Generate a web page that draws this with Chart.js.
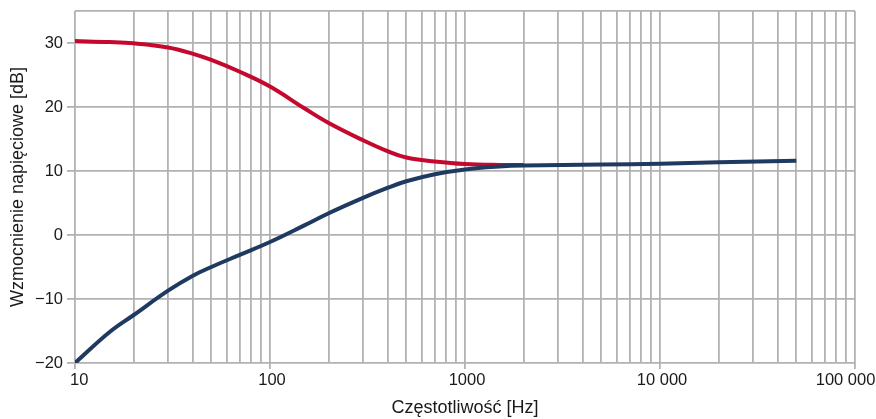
<!DOCTYPE html>
<html>
<head>
<meta charset="utf-8">
<script src="https://cdn.jsdelivr.net/npm/chart.js@4/dist/chart.umd.min.js"></script>
<style>
html,body{margin:0;padding:0;background:#fff;}
#wrap{width:876px;height:419px;}
</style>
</head>
<body>
<div id="wrap"><canvas id="c" width="876" height="419"></canvas></div>
<script>
const redFreq = [10, 15, 20, 30, 40, 50, 70, 100, 150, 200, 300, 400, 500, 700, 1000, 1500, 2000];
const redGain = [30.3, 30.15, 29.95, 29.3, 28.35, 27.35, 25.5, 23.2, 19.8, 17.5, 14.8, 13.1, 12.1, 11.5, 11.1, 10.95, 10.95];
const blueFreq = [10, 15, 20, 30, 40, 50, 70, 100, 150, 200, 300, 400, 500, 700, 1000, 1500, 2000, 5000, 10000, 20000, 50000];
const blueGain = [-20, -15.2, -12.5, -8.7, -6.4, -5.0, -3.1, -1.1, 1.5, 3.4, 5.8, 7.35, 8.4, 9.5, 10.25, 10.7, 10.85, 11.0, 11.15, 11.35, 11.6];
const yTicks = [-20, -10, 0, 10, 20, 30, 35];
const yTickLabels = ['\u221220', '\u221210', '0', '10', '20', '30', ''];
const xMajorLabels = {10: '\u00a010', 100: '100', 1000: '1000', 10000: '10 000', 100000: '100 000\u00a0\u00a0\u00a0\u00a0\u00a0'};
const xTitle = 'Częstotliwość [Hz]';
const yTitle = 'Wzmocnienie napięciowe [dB]';

const toPts = (xs, ys) => xs.map((x, i) => ({x: x, y: ys[i]}));
const gridColor = '#b2b2b2';
const fam = 'Liberation Sans, Arial, sans-serif';
const tickFont = {family: fam, size: 16.5};
const titleFont = {family: fam, size: 18};

new Chart(document.getElementById('c'), {
  type: 'scatter',
  data: {
    datasets: [
      {data: toPts(blueFreq, blueGain), showLine: true, borderColor: '#1f3a60', borderWidth: 4, pointRadius: 0, tension: 0.4, order: 1},
      {data: toPts(redFreq, redGain), showLine: true, borderColor: '#c4082e', borderWidth: 4, pointRadius: 0, tension: 0.4, order: 2}
    ]
  },
  options: {
    responsive: false,
    animation: false,
    events: [],
    layout: {padding: {top: 11, right: 21, left: 0, bottom: 0}},
    plugins: {legend: {display: false}, tooltip: {enabled: false}},
    scales: {
      x: {
        type: 'logarithmic',
        min: 10, max: 100000,
        afterBuildTicks: (scale) => {
          const t = [];
          for (let e = 1; e <= 4; e++) {
            for (let m = 1; m <= 9; m++) t.push({value: m * Math.pow(10, e)});
          }
          t.push({value: 100000});
          scale.ticks = t;
        },
        afterFit: (scale) => { scale.height = 56; scale.paddingLeft = 0; scale.paddingRight = 0; },
        ticks: {
          autoSkip: false, maxRotation: 0, minRotation: 0, color: '#1a1a1a', font: tickFont, padding: 2, labelOffset: 2,
          callback: function(v) { return xMajorLabels[v] !== undefined ? xMajorLabels[v] : ''; }
        },
        grid: {
          color: gridColor, lineWidth: 1.8, tickLength: 6,
          tickColor: (ctx) => (ctx.tick && xMajorLabels[ctx.tick.value] !== undefined) ? gridColor : 'rgba(0,0,0,0)'
        },
        border: {display: false},
        title: {display: true, text: xTitle, color: '#1a1a1a', font: titleFont, padding: {top: 7, bottom: 0}}
      },
      y: {
        type: 'linear',
        min: -20, max: 35,
        afterBuildTicks: (scale) => { scale.ticks = yTicks.map(v => ({value: v})); },
        afterFit: (scale) => { scale.width = 75; scale.paddingTop = 0; scale.paddingBottom = 0; },
        ticks: {
          autoSkip: false, color: '#1a1a1a', font: tickFont, padding: 4,
          callback: function(v) { const i = yTicks.indexOf(v); return i >= 0 ? yTickLabels[i] : ''; }
        },
        grid: {
          color: gridColor, lineWidth: 1.8, tickLength: 8,
          tickColor: (ctx) => (ctx.tick && ctx.tick.value === 35) ? 'rgba(0,0,0,0)' : gridColor
        },
        border: {display: false},
        title: {display: true, text: yTitle, color: '#1a1a1a', font: titleFont, padding: {top: 7, bottom: 2}}
      }
    }
  }
});
</script>
</body>
</html>
